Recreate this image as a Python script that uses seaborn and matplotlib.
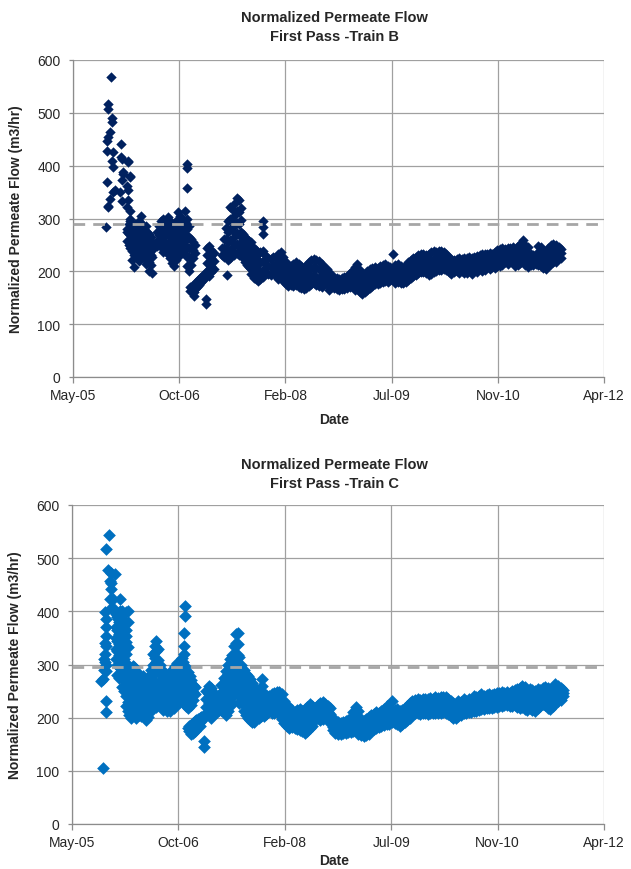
import matplotlib
matplotlib.use("Agg")
import matplotlib.pyplot as plt
import matplotlib.dates as mdates
import seaborn as sns
import pandas as pd

# ---------------- data (days after 2005-05-31, flow m3/hr) ----------------
ORIGIN = "2005-05-31"
TICK_LABELS = ["May-05", "Oct-06", "Feb-08", "Jul-09", "Nov-10", "Apr-12"]
Y_TICKS = [0, 100, 200, 300, 400, 500, 600]
REF_B = 290
REF_C = 295

b_days = [
    154, 159, 166, 174, 177, 182, 190, 198, 221, 226, 229, 237, 253, 260, 268,
    255, 262, 270, 278, 286, 294, 302, 310, 318, 326, 334, 342, 350, 358, 366, 372,
    395, 405, 415, 425, 435, 445, 455, 465, 475, 485, 495, 505, 515, 525,
    535, 545, 555, 565, 575,
    552, 560, 568, 576, 584, 592, 600, 608, 616, 624,
    632, 642, 652, 662, 724,
    700, 710, 720, 730, 740, 750, 760, 770, 780, 790, 800, 810, 820, 830, 840, 850, 860,
    896,
    870, 882, 894, 906, 918, 930, 942, 954, 966, 978, 990,
    1002, 1014, 1026, 1038, 1050, 1062, 1074, 1086, 1098, 1110, 1122, 1134, 1146, 1158, 1170,
    1182, 1194, 1206, 1218, 1230, 1242, 1254, 1266, 1278, 1290, 1302, 1314, 1326, 1338, 1350,
    1362, 1374, 1386, 1398, 1410, 1422, 1434, 1446, 1458, 1470, 1482, 1494, 1505, 1518, 1530,
    1542, 1554, 1566, 1578, 1590, 1602, 1614, 1626, 1638, 1650, 1662, 1674, 1686, 1698, 1710,
    1722, 1734, 1746, 1758, 1770, 1782, 1794, 1806, 1818, 1830, 1842, 1854, 1866, 1878, 1890,
    1902, 1914, 1926, 1938, 1950, 1962, 1974, 1986, 1998, 2010, 2022, 2034, 2046, 2058, 2070,
    2082, 2094, 2106, 2118, 2130, 2142, 2154, 2166, 2178, 2190, 2202, 2214, 2226, 2238, 2250,
    2262, 2274, 2286, 2298,
]
b_flow = [
    [283], [446, 427, 369], [517, 507, 454, 321, 324], [463, 337], [568], [491, 482, 409],
    [425, 397, 350], [353], [350], [441, 416], [372, 334, 413], [388, 384], [362, 321, 280],
    [408, 353, 335, 406], [378, 315, 296, 381],
    [275, 258], [290, 270, 250], [300, 280, 262, 244], [275, 258, 238, 222],
    [285, 265, 248, 230, 208], [290, 270, 252, 235], [280, 262, 245, 228],
    [295, 275, 258, 240, 220], [305, 283, 265, 248], [290, 270, 252, 232],
    [280, 262, 244, 225], [285, 268, 250, 230, 214], [275, 258, 240, 222],
    [270, 252, 235, 218, 200], [265, 248, 230, 212], [255, 240, 227, 196],
    [275, 258, 248], [285, 268, 252], [295, 278, 262, 246], [300, 282, 265, 248, 236],
    [290, 272, 255, 238], [302, 285, 268, 250, 232], [295, 276, 258, 240, 225],
    [288, 270, 252, 235, 215], [282, 264, 246, 228, 211], [295, 276, 258, 240, 222],
    [312, 290, 270, 250, 232], [305, 285, 265, 248, 230], [300, 280, 262, 244],
    [315, 292, 270, 250, 232],
    [403, 395, 357, 300, 280, 262, 245, 228, 210], [285, 265, 245, 228, 212, 200],
    [262, 245, 228, 212], [255, 240, 225], [250, 235],
    [170, 163], [172, 162], [175, 160, 154], [178, 167], [182, 170], [185, 175],
    [188, 178], [192, 182], [195, 185], [148, 139],
    [245, 230, 215, 200], [248, 232, 218, 205, 192], [240, 225, 210, 198], [235, 220, 205], [193],
    [245, 230], [262, 245, 228], [282, 262, 245, 230], [295, 275, 255, 238, 222],
    [322, 300, 280, 260, 240, 225], [318, 298, 278, 258, 240], [328, 305, 285, 265, 248, 230],
    [338, 315, 292, 272, 252, 235], [335, 312, 290, 268, 248, 230], [320, 298, 275, 255, 235],
    [270, 255, 240, 225], [265, 250, 235, 218], [262, 245, 230, 212], [258, 242, 225, 208],
    [255, 238, 222, 205, 195], [245, 230, 215, 200, 188], [240, 225, 210, 195, 185],
    [295, 283, 270],
    [232, 214, 197, 182], [236, 218, 200, 186], [238, 220, 203, 190], [230, 213, 197],
    [226, 210, 195], [224, 208, 193], [228, 212, 196], [226, 209, 192],
    [232, 215, 199, 186], [236, 219, 202, 188], [228, 211, 195, 181],
    [218, 203, 188, 176], [212, 198, 184, 173], [210, 195, 181, 175], [214, 199, 185, 173],
    [218, 203, 188, 175], [214, 199, 184, 170], [210, 196, 182, 168], [206, 192, 178, 166],
    [212, 197, 182, 168], [218, 203, 188, 172], [222, 207, 192, 176], [224, 209, 194, 178],
    [222, 206, 190, 174], [220, 204, 188, 172], [214, 199, 184, 170],
    [208, 194, 180], [205, 190, 176], [198, 185, 172, 165], [192, 180, 170], [190, 178, 168],
    [188, 176, 166], [186, 175, 165], [188, 177, 166], [190, 178, 167], [192, 180, 169],
    [196, 183, 171], [200, 186, 173], [208, 192, 177, 165], [214, 198, 182, 166],
    [202, 188, 174, 160],
    [192, 178, 164, 157], [195, 181, 167, 160], [200, 186, 173, 165], [204, 190, 177, 168],
    [206, 193, 180, 172], [208, 195, 182, 176], [206, 194, 182, 176], [210, 197, 184, 178],
    [212, 199, 186, 180], [214, 201, 188, 182], [210, 198, 186, 180], [208, 196, 184],
    [233, 206, 194, 183], [212, 199, 187, 178], [214, 201, 189, 180],
    [210, 198, 186, 178], [206, 195, 184, 177], [212, 200, 188, 180], [218, 205, 192, 184],
    [222, 209, 196, 188], [226, 213, 200, 192], [228, 215, 202, 194], [230, 217, 205, 196],
    [232, 219, 207, 198], [233, 220, 208, 198], [230, 218, 206, 196], [232, 219, 206, 194],
    [236, 222, 208, 195], [238, 224, 210, 198], [236, 223, 210, 200],
    [238, 225, 212, 202], [239, 226, 213, 203], [236, 224, 212, 204], [232, 221, 210, 202],
    [228, 217, 206, 198], [224, 212, 200, 195], [222, 210, 198], [224, 212, 200],
    [226, 214, 202, 196], [224, 212, 200], [226, 214, 202, 197], [225, 213, 201, 196],
    [227, 215, 203], [225, 213, 200, 195], [227, 215, 203],
    [229, 217, 205, 198], [230, 218, 206], [232, 220, 208, 200], [233, 221, 209, 202],
    [232, 220, 208], [234, 222, 210, 204], [233, 221, 209], [236, 224, 212, 206],
    [240, 228, 216, 210], [242, 230, 218, 211], [244, 232, 220, 212], [242, 230, 218],
    [245, 233, 221, 214], [244, 232, 220], [246, 234, 222, 215],
    [240, 228, 216, 210], [248, 236, 224, 212], [252, 240, 228, 216], [260, 246, 232, 218],
    [250, 238, 226, 212], [246, 234, 222, 208], [232, 222, 212], [230, 220, 212],
    [228, 219, 214], [248, 236, 224, 212], [246, 234, 222, 210], [240, 228, 216, 206],
    [236, 224, 212, 205], [244, 232, 220, 210], [250, 238, 226, 214],
    [252, 240, 228, 218], [250, 238, 226, 218], [246, 236, 226], [242, 234, 226],
]

c_days = [
    146, 138, 150, 154, 162, 167, 173, 177, 185, 193, 200, 217, 225, 233, 240, 256, 264,
    205, 213, 221, 229, 237, 245, 253,
    261, 269, 277, 285, 293, 301, 309, 317, 325, 333, 341, 349, 357, 365, 373,
    381, 389, 397, 405, 413,
    421, 429, 437, 445, 453, 461, 469, 477, 485, 493, 501, 509, 515, 522, 527, 531,
    537, 545, 553, 561, 569, 577,
    552, 560, 568, 576, 584, 592, 600, 608, 616, 622,
    632, 642, 652, 662, 672, 682, 692,
    702, 712, 722, 732, 742, 752, 762, 770, 778, 786, 796, 806, 816, 826, 836, 846, 856,
    894,
    866, 878, 890, 902, 914, 926, 938, 950, 962, 974, 986,
    998, 1010, 1022, 1034, 1046, 1058, 1070, 1082, 1094, 1106, 1118, 1130, 1142, 1154, 1166,
    1178, 1190, 1202, 1214, 1226, 1238, 1250, 1262, 1274, 1286, 1298, 1310, 1322, 1334, 1346,
    1358, 1370, 1382, 1394, 1406, 1418, 1430, 1442, 1454, 1466, 1478, 1490, 1504, 1516, 1528,
    1540, 1552, 1564, 1576, 1588, 1600, 1612, 1624, 1636, 1648, 1660, 1672, 1684, 1696, 1708,
    1720, 1732, 1744, 1756, 1768, 1780, 1792, 1804, 1816, 1828, 1840, 1852, 1864, 1876, 1888,
    1900, 1912, 1924, 1936, 1948, 1960, 1972, 1984, 1996, 2008, 2020, 2032, 2044, 2056, 2068,
    2080, 2092, 2104, 2116, 2128, 2140, 2152, 2164, 2176, 2188, 2200, 2212, 2224, 2236, 2248,
    2260, 2272, 2284, 2296, 2306,
]
c_flow = [
    [105, 273], [269], [290, 310], [398, 320, 304, 340],
    [518, 385, 354, 335, 288, 232, 210, 370, 300], [478], [544], [457, 423],
    [473, 442, 407, 454], [423, 407], [470], [385], [424, 401, 360, 342], [373, 323, 401],
    [304], [398, 354], [332, 379, 401],
    [395, 370, 350, 330, 310], [390, 365, 345, 325, 300, 280], [380, 358, 338, 318, 295, 275],
    [392, 368, 345, 325, 305, 285], [385, 362, 340, 318, 298, 278, 258],
    [375, 352, 330, 310, 290, 270, 250], [365, 342, 320, 300, 280, 260, 240, 222],
    [300, 282, 265, 248, 230, 212], [295, 276, 258, 240, 222, 205],
    [290, 272, 254, 236, 218, 200], [298, 280, 262, 244, 226, 208],
    [295, 277, 259, 241, 223, 206], [288, 270, 252, 234, 216, 200],
    [282, 264, 246, 228, 210], [276, 258, 240, 222, 205], [272, 255, 238, 220, 203],
    [278, 260, 242, 225, 208], [270, 252, 235, 218, 200], [265, 248, 230, 212, 195],
    [272, 254, 236, 218, 202], [280, 262, 244, 226, 210], [290, 272, 254, 236, 220],
    [320, 300], [335, 312, 290, 268, 246, 225], [345, 325, 305, 285, 262, 240, 220],
    [330, 308, 288, 266, 245, 225], [300, 282, 262, 242, 222],
    [290, 270, 250, 232], [285, 266, 248, 230, 214], [282, 262, 244, 226],
    [278, 260, 242, 224, 212], [280, 262, 244, 226], [285, 266, 248, 230, 213],
    [282, 262, 244, 226], [292, 272, 254, 236, 218], [298, 278, 260, 242, 225],
    [302, 283, 265, 246, 228], [296, 278, 260, 242], [300, 282, 264, 246, 230],
    [313, 290, 272, 254, 236], [305, 286, 268, 250, 232], [360, 335, 320], [410, 392],
    [295, 276, 258, 240, 222], [285, 266, 248, 232, 218, 180], [278, 260, 244, 228],
    [270, 254, 238, 224], [262, 248, 234], [258, 245],
    [184, 174], [186, 176, 170], [190, 180, 172], [194, 184, 175], [196, 186, 178],
    [198, 188, 182], [200, 192, 185], [202, 195], [204, 198], [156, 145],
    [250, 235, 220, 205], [260, 244, 228, 212], [255, 240, 225, 210, 200],
    [248, 232, 218, 205], [240, 226, 212], [235, 222, 210], [242, 228, 214],
    [262, 246, 230, 215], [275, 258, 242, 226, 210], [288, 270, 252, 235, 218, 205],
    [300, 282, 264, 246, 228, 212], [310, 292, 274, 256, 238, 222],
    [318, 300, 282, 264, 246, 228], [335, 315, 296, 278, 260, 242],
    [358, 340, 320, 300, 282, 264, 246], [360, 338, 318, 298, 280, 262, 245],
    [315, 296, 278, 260, 242, 228], [300, 282, 265, 248, 232],
    [290, 272, 256, 240, 225, 212], [282, 266, 250, 235, 220, 205],
    [278, 262, 246, 230, 215, 200], [272, 256, 240, 225, 210, 196],
    [265, 250, 235, 220, 205, 192], [258, 244, 230, 216, 202, 191],
    [273, 260, 248],
    [250, 232, 214, 198], [246, 228, 212, 200], [248, 230, 214, 204], [245, 228, 212, 204],
    [242, 226, 212, 206], [240, 226, 212], [244, 228, 214, 208], [246, 230, 216, 208],
    [248, 232, 218, 210], [248, 232, 216, 206], [244, 228, 212, 198],
    [232, 218, 204, 190], [224, 210, 196, 184], [218, 204, 190, 180], [214, 200, 188, 182],
    [210, 198, 186, 180], [214, 200, 187, 178], [216, 202, 188, 176], [212, 198, 185, 174],
    [216, 200, 186, 172], [220, 204, 188, 174], [226, 210, 194, 180], [222, 208, 195, 184],
    [218, 206, 196], [224, 212, 200], [228, 216, 204, 196],
    [229, 217, 205, 198], [226, 214, 204], [222, 210, 200, 194], [219, 206, 196],
    [200, 190, 182, 176], [194, 185, 178, 172], [192, 184, 176, 170], [190, 182, 175, 170],
    [192, 184, 177, 171], [194, 186, 178, 172], [196, 187, 179, 173], [200, 190, 180, 173],
    [210, 196, 184, 174], [220, 204, 188, 174], [212, 196, 182, 170],
    [198, 185, 174, 168], [194, 182, 172, 166], [198, 186, 175, 167], [202, 190, 179, 170],
    [205, 194, 183, 174], [207, 196, 186, 178], [210, 199, 188, 180], [208, 198, 188, 182],
    [212, 201, 190, 184], [216, 204, 193, 186], [222, 208, 196, 188], [216, 204, 194, 188],
    [232, 210, 200, 192], [214, 204, 194, 190], [216, 205, 195, 188],
    [212, 200, 190, 185], [214, 202, 192, 188], [218, 207, 198, 192], [222, 212, 202, 196],
    [228, 218, 208, 200], [232, 222, 212, 206], [234, 224, 214, 208], [235, 225, 215, 208],
    [234, 224, 214, 207], [235, 225, 215, 208], [236, 226, 216, 208], [235, 225, 215, 207],
    [237, 227, 217, 208], [236, 226, 216, 208], [238, 228, 218, 209],
    [237, 227, 217, 208], [238, 228, 218, 209], [239, 229, 219, 210], [238, 228, 218, 208],
    [236, 226, 216, 206], [232, 222, 212, 204], [228, 218, 208, 200], [226, 216, 206, 199],
    [232, 222, 212, 204], [230, 220, 210, 205], [236, 226, 216, 208], [232, 223, 214, 208],
    [236, 226, 217, 210], [234, 225, 216, 210], [241, 230, 220, 212],
    [238, 228, 219, 213], [240, 230, 221, 215], [244, 233, 223, 216], [240, 231, 222, 216],
    [242, 233, 224, 218], [244, 235, 226, 219], [243, 234, 225, 219], [245, 236, 227, 220],
    [247, 238, 229, 221], [246, 237, 228, 222], [248, 238, 229, 222], [247, 238, 229, 223],
    [248, 239, 230, 224], [246, 237, 228, 222], [250, 240, 230, 222],
    [252, 242, 232, 224], [254, 244, 232, 220], [256, 245, 232, 218], [259, 247, 234, 220],
    [257, 245, 232, 216], [252, 242, 230, 215], [254, 244, 232, 218], [252, 240, 228, 214],
    [250, 238, 226, 213], [254, 242, 230, 218], [252, 241, 230, 222], [256, 245, 234, 225],
    [258, 247, 236, 224], [255, 244, 232, 218], [252, 240, 228, 216],
    [258, 246, 234, 222], [263, 251, 239, 228], [260, 250, 240, 232], [256, 248, 240, 234],
    [252, 246, 240],
]

assert len(b_days) == len(b_flow), (len(b_days), len(b_flow))
assert len(c_days) == len(c_flow), (len(c_days), len(c_flow))


def frame(days, flows):
    rows = [(d, v) for d, vs in zip(days, flows) for v in vs]
    df = pd.DataFrame(rows, columns=["day", "flow"])
    df["date"] = pd.Timestamp(ORIGIN) + pd.to_timedelta(df["day"], unit="D")
    return df


df_b = frame(b_days, b_flow)
df_c = frame(c_days, c_flow)

# ---------------- styling ----------------
sns.set_style("white")
plt.rcParams["font.family"] = ["Liberation Sans", "DejaVu Sans"]

W, H = 631, 870
fig = plt.figure(figsize=(W / 100, H / 100), dpi=100)

GRID = "#A0A0A0"
origin = pd.Timestamp(ORIGIN)
tick_dates = [origin + pd.Timedelta(days=500 * k) for k in range(len(TICK_LABELS))]


def setup(ax, df, color, size, ref):
    sns.scatterplot(data=df, x="date", y="flow", marker="D", s=size, color=color,
                    linewidth=0, ax=ax, legend=False, zorder=3)
    ax.axhline(ref, color="#A6A6A6", lw=2.0, dashes=(4.2, 2.9), zorder=4)
    ax.set_xlim(mdates.date2num(tick_dates[0]), mdates.date2num(tick_dates[-1]))
    ax.set_xticks([mdates.date2num(t) for t in tick_dates])
    ax.set_xticklabels(TICK_LABELS)
    ax.set_ylim(0, 600)
    ax.set_yticks(Y_TICKS)
    ax.grid(True, color=GRID, lw=0.9, zorder=0)
    ax.set_axisbelow(True)
    for s in ["top", "right"]:
        ax.spines[s].set_visible(False)
    for s in ["left", "bottom"]:
        ax.spines[s].set_color("#8C8C8C")
        ax.spines[s].set_linewidth(0.9)
    ax.tick_params(axis="x", length=4, width=0.9, color="#8C8C8C", labelsize=10,
                   pad=4, direction="out", bottom=True)
    ax.tick_params(axis="y", length=3, width=0.9, color="#8C8C8C", labelsize=10,
                   pad=6, direction="out", left=True)
    ax.set_xlabel("")
    ax.set_ylabel("Normalized Permeate Flow (m3/hr)", fontsize=10, fontweight="bold",
                  labelpad=10)
    ax.set_title("")
    return ax


ax1 = fig.add_axes([73 / W, 1 - 378 / H, (604 - 73) / W, (378 - 61) / H])
setup(ax1, df_b, "#00215F", 28, REF_B)
ax2 = fig.add_axes([72 / W, 1 - 825 / H, (604 - 72) / W, (825 - 506) / H])
setup(ax2, df_c, "#0070C0", 42, REF_C)

# titles and x labels
tx = 334 / W
fig.text(tx, 1 - 18 / H, "Normalized Permeate Flow", ha="center", va="center",
         fontsize=10.5, fontweight="bold")
fig.text(tx, 1 - 37 / H, "First Pass -Train B", ha="center", va="center",
         fontsize=10.5, fontweight="bold")
fig.text(tx, 1 - 465 / H, "Normalized Permeate Flow", ha="center", va="center",
         fontsize=10.5, fontweight="bold")
fig.text(tx, 1 - 484 / H, "First Pass -Train C", ha="center", va="center",
         fontsize=10.5, fontweight="bold")
fig.text(334 / W, 1 - 420 / H, "Date", ha="center", va="center", fontsize=10,
         fontweight="bold")
fig.text(334 / W, 1 - 861 / H, "Date", ha="center", va="center", fontsize=10,
         fontweight="bold")

fig.savefig("out.png", dpi=100)
